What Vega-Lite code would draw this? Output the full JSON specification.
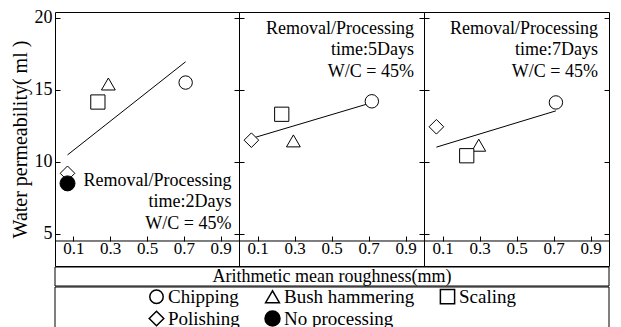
{
  "$schema": "https://vega.github.io/schema/vega-lite/v6.json",
  "padding": {"left": 9, "top": 8, "right": 5, "bottom": 0},
  "background": "white",
  "config": {
    "font": "Liberation Serif",
    "view": {"stroke": "black", "strokeWidth": 1},
    "axis": {"grid": false, "labelColor": "black", "tickColor": "black", "domainColor": "black", "titleColor": "black", "labelFont": "Liberation Serif", "titleFont": "Liberation Serif"},
    "legend": {"labelFont": "Liberation Serif", "labelColor": "black"},
    "text": {"font": "Liberation Serif", "color": "black"}
  },
  "datasets": {
    "pts": [
      {"panel": "2Days", "method": "Chipping", "rough": 0.71, "perm": 15.5},
      {"panel": "2Days", "method": "Bush hammering", "rough": 0.29, "perm": 15.4},
      {"panel": "2Days", "method": "Scaling", "rough": 0.233, "perm": 14.15},
      {"panel": "2Days", "method": "Polishing", "rough": 0.068, "perm": 9.2},
      {"panel": "2Days", "method": "No processing", "rough": 0.068, "perm": 8.5},
      {"panel": "5Days", "method": "Chipping", "rough": 0.718, "perm": 14.2},
      {"panel": "5Days", "method": "Bush hammering", "rough": 0.294, "perm": 11.45},
      {"panel": "5Days", "method": "Scaling", "rough": 0.231, "perm": 13.3},
      {"panel": "5Days", "method": "Polishing", "rough": 0.067, "perm": 11.5},
      {"panel": "7Days", "method": "Chipping", "rough": 0.713, "perm": 14.12},
      {"panel": "7Days", "method": "Bush hammering", "rough": 0.296, "perm": 11.15},
      {"panel": "7Days", "method": "Scaling", "rough": 0.231, "perm": 10.42},
      {"panel": "7Days", "method": "Polishing", "rough": 0.067, "perm": 12.43}
    ]
  },
  "spacing": -1,
  "vconcat": [
    {
      "bounds": "flush",
      "spacing": 0,
      "hconcat": [
        {
          "width": 184, "height": 254,
          "data": {"name": "pts"},
          "transform": [{"filter": "datum.panel === '2Days'"}],
          "layer": [
            {
              "transform": [{"regression": "perm", "on": "rough"}],
              "mark": {"type": "line", "color": "black", "strokeWidth": 1},
              "encoding": {
                "x": {"field": "rough", "type": "quantitative", "scale": {"domain": [0, 1], "nice": false}, "axis": {"orient": "bottom", "offset": -25, "tickSize": -5, "labelPadding": 12, "labelBaseline": "middle", "labelFontSize": 17, "labelFlush": false, "labelOverlap": false, "format": ".1f", "domain": false, "title": null, "values": [0.1, 0.3, 0.5, 0.7, 0.9]}},
                "y": {"field": "perm", "type": "quantitative", "scale": {"domain": [2.764, 20.4], "nice": false, "zero": false}, "axis": {"orient": "left", "values": [5, 10, 15, 20], "tickSize": -5, "labels": false, "domain": false, "title": null}}
              }
            },
            {
              "data": {"values": [{"base": 4.5}]},
              "mark": {"type": "rule", "color": "black", "strokeWidth": 1},
              "encoding": {"y": {"field": "base", "type": "quantitative", "axis": {"orient": "left", "values": [5, 10, 15, 20], "ticks": false, "labelPadding": 3, "labelOverlap": false, "labelFlush": false, "labelBound": false, "domain": false, "labelFontSize": 18, "title": "Water permeability( ml )", "titleFontSize": 20, "titleFontWeight": "normal", "titlePadding": 4}}}
            },
            {
              "mark": {"type": "point", "stroke": "black", "strokeWidth": 1, "opacity": 1},
              "encoding": {
                "x": {"field": "rough", "type": "quantitative"},
                "y": {"field": "perm", "type": "quantitative", "axis": {"orient": "right", "labels": false, "tickSize": -5, "domain": false, "title": null, "values": [5, 10, 15, 20]}},
                "shape": {"field": "method", "type": "nominal", "scale": {"domain": ["Chipping", "Bush hammering", "Scaling", "Polishing", "No processing"], "range": ["circle", "triangle-up", "square", "diamond", "circle"]}, "legend": {"orient": "none", "legendX": 92, "legendY": 275, "columns": 3, "direction": "horizontal", "title": null, "labelFontSize": 19, "columnPadding": 22, "rowPadding": 1, "labelOffset": 2, "encode": {"symbols": {"update": {"stroke": {"value": "black"}, "strokeWidth": {"value": 1}}}}}},
                "fill": {"field": "method", "type": "nominal", "scale": {"domain": ["Chipping", "Bush hammering", "Scaling", "Polishing", "No processing"], "range": ["white", "white", "white", "white", "black"]}, "legend": {"orient": "none", "legendX": 92, "legendY": 275, "columns": 3, "direction": "horizontal", "title": null, "labelFontSize": 19, "columnPadding": 22, "rowPadding": 1, "labelOffset": 2, "encode": {"symbols": {"update": {"stroke": {"value": "black"}, "strokeWidth": {"value": 1}}}}}},
                "size": {"field": "method", "type": "nominal", "scale": {"domain": ["Chipping", "Bush hammering", "Scaling", "Polishing", "No processing"], "range": [180, 225, 256, 210, 110]}, "legend": {"orient": "none", "legendX": 92, "legendY": 275, "columns": 3, "direction": "horizontal", "title": null, "labelFontSize": 19, "columnPadding": 22, "rowPadding": 1, "labelOffset": 2, "encode": {"symbols": {"update": {"stroke": {"value": "black"}, "strokeWidth": {"value": 1}}}}}}
              }
            },
            {
              "data": {"values": [{"note": "2Days"}]},
              "mark": {"type": "text", "align": "right", "baseline": "middle", "fontSize": 18, "lineHeight": 21.5},
              "encoding": {
                "x": {"datum": 0.959, "type": "quantitative"},
                "y": {"datum": 8.68, "type": "quantitative", "axis": null},
                "text": {"value": ["Removal/Processing", "time:2Days", "W/C = 45%"]}
              }
            }
          ],
          "resolve": {"axis": {"y": "independent"}}
        },
        {
          "width": 185, "height": 254,
          "data": {"name": "pts"},
          "transform": [{"filter": "datum.panel === '5Days'"}],
          "layer": [
            {
              "transform": [{"regression": "perm", "on": "rough"}],
              "mark": {"type": "line", "color": "black", "strokeWidth": 1},
              "encoding": {
                "x": {"field": "rough", "type": "quantitative", "scale": {"domain": [0, 1], "nice": false}, "axis": {"orient": "bottom", "offset": -25, "tickSize": -5, "labelPadding": 12, "labelBaseline": "middle", "labelFontSize": 17, "labelFlush": false, "labelOverlap": false, "format": ".1f", "domain": false, "title": null, "values": [0.1, 0.3, 0.5, 0.7, 0.9]}},
                "y": {"field": "perm", "type": "quantitative", "scale": {"domain": [2.764, 20.4], "nice": false, "zero": false}, "axis": {"orient": "right", "labels": false, "tickSize": -5, "domain": false, "title": null, "values": [5, 10, 15, 20]}}
              }
            },
            {
              "data": {"values": [{"base": 4.5}]},
              "mark": {"type": "rule", "color": "black", "strokeWidth": 1},
              "encoding": {"y": {"field": "base", "type": "quantitative", "axis": null}}
            },
            {
              "mark": {"type": "point", "stroke": "black", "strokeWidth": 1, "opacity": 1},
              "encoding": {
                "x": {"field": "rough", "type": "quantitative"},
                "y": {"field": "perm", "type": "quantitative", "axis": {"orient": "left", "labels": false, "tickSize": -5, "domain": false, "title": null, "values": [5, 10, 15, 20]}},
                "shape": {"field": "method", "type": "nominal"},
                "fill": {"field": "method", "type": "nominal"},
                "size": {"field": "method", "type": "nominal"}
              }
            },
            {
              "data": {"values": [{"note": "5Days"}]},
              "mark": {"type": "text", "align": "right", "baseline": "middle", "fontSize": 18, "lineHeight": 21.5},
              "encoding": {
                "x": {"datum": 0.946, "type": "quantitative"},
                "y": {"datum": 19.24, "type": "quantitative", "axis": null},
                "text": {"value": ["Removal/Processing", "time:5Days", "W/C = 45%"]}
              }
            }
          ],
          "resolve": {"axis": {"y": "independent"}}
        },
        {
          "width": 185, "height": 254,
          "data": {"name": "pts"},
          "transform": [{"filter": "datum.panel === '7Days'"}],
          "layer": [
            {
              "transform": [{"regression": "perm", "on": "rough"}],
              "mark": {"type": "line", "color": "black", "strokeWidth": 1},
              "encoding": {
                "x": {"field": "rough", "type": "quantitative", "scale": {"domain": [0, 1], "nice": false}, "axis": {"orient": "bottom", "offset": -25, "tickSize": -5, "labelPadding": 12, "labelBaseline": "middle", "labelFontSize": 17, "labelFlush": false, "labelOverlap": false, "format": ".1f", "domain": false, "title": null, "values": [0.1, 0.3, 0.5, 0.7, 0.9]}},
                "y": {"field": "perm", "type": "quantitative", "scale": {"domain": [2.764, 20.4], "nice": false, "zero": false}, "axis": {"orient": "right", "labels": false, "tickSize": -5, "domain": false, "title": null, "values": [5, 10, 15, 20]}}
              }
            },
            {
              "data": {"values": [{"base": 4.5}]},
              "mark": {"type": "rule", "color": "black", "strokeWidth": 1},
              "encoding": {"y": {"field": "base", "type": "quantitative", "axis": null}}
            },
            {
              "mark": {"type": "point", "stroke": "black", "strokeWidth": 1, "opacity": 1},
              "encoding": {
                "x": {"field": "rough", "type": "quantitative"},
                "y": {"field": "perm", "type": "quantitative", "axis": {"orient": "left", "labels": false, "tickSize": -5, "domain": false, "title": null, "values": [5, 10, 15, 20]}},
                "shape": {"field": "method", "type": "nominal"},
                "fill": {"field": "method", "type": "nominal"},
                "size": {"field": "method", "type": "nominal"}
              }
            },
            {
              "data": {"values": [{"note": "7Days"}]},
              "mark": {"type": "text", "align": "right", "baseline": "middle", "fontSize": 18, "lineHeight": 21.5},
              "encoding": {
                "x": {"datum": 0.94, "type": "quantitative"},
                "y": {"datum": 19.22, "type": "quantitative", "axis": null},
                "text": {"value": ["Removal/Processing", "time:7Days", "W/C = 45%"]}
              }
            }
          ],
          "resolve": {"axis": {"y": "independent"}}
        }
      ]
    },
    {
      "width": 554, "height": 19,
      "data": {"values": [{"t": "Arithmetic mean roughness(mm)"}]},
      "layer": [
        {"mark": {"type": "rect", "fillOpacity": 0, "stroke": "black", "strokeWidth": 1}},
        {"mark": {"type": "text", "fontSize": 18, "baseline": "middle"}, "encoding": {"text": {"field": "t", "type": "nominal"}}}
      ]
    },
    {
      "width": 554, "height": 45,
      "data": {"values": [{"t": ""}]},
      "mark": {"type": "rect", "fillOpacity": 0, "stroke": "black", "strokeWidth": 1}
    }
  ]
}
